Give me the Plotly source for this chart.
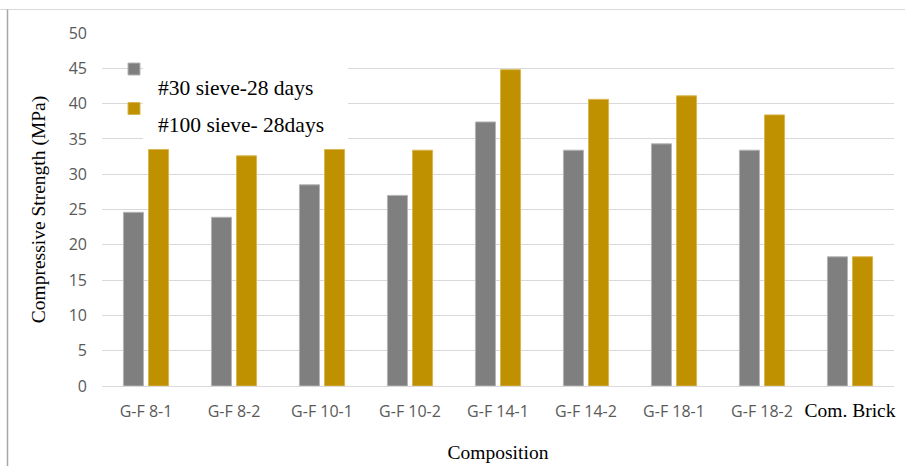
import plotly.graph_objects as go

# Compressive strength of geopolymer-fly ash brick compositions (MPa)
compositions = ["G-F 8-1", "G-F 8-2", "G-F 10-1", "G-F 10-2", "G-F 14-1",
                "G-F 14-2", "G-F 18-1", "G-F 18-2", "Com. Brick"]
sieve30_28d = [24.6, 23.9, 28.5, 27.0, 37.4, 33.4, 34.3, 33.4, 18.3]
sieve100_28d = [33.5, 32.6, 33.5, 33.4, 44.8, 40.6, 41.1, 38.4, 18.3]
series_names = ["#30 sieve-28 days", "#100 sieve- 28days"]
y_ticks = [0, 5, 10, 15, 20, 25, 30, 35, 40, 45, 50]

W, H = 905, 466
ML, MR, MT, MB = 102, 11, 33, 80
PW, PH = W - ML - MR, H - MT - MB


def px_x(px):
    return (px - ML) / PW


def px_y(py):
    return (H - MB - py) / PH


SERIF = "Liberation Serif, Times New Roman, serif"
SANS = "Open Sans, Calibri, sans-serif"

tick_text = [c if c != "Com. Brick" else
             '<span style="font-family:Liberation Serif;font-size:19.5px;color:#000000">%s</span>' % c
             for c in compositions]

fig = go.Figure()
fig.add_trace(go.Bar(
    x=compositions, y=sieve30_28d, name=series_names[0], legendgroup="a",
    marker=dict(color="#7F7F7F", line=dict(color="#B5B5B5", width=1)),
))
fig.add_trace(go.Bar(
    x=compositions, y=sieve100_28d, name=series_names[1], legendgroup="b",
    marker=dict(color="#BF9000", line=dict(color="#D9B650", width=1)),
))

fig.update_layout(
    width=W, height=H,
    margin=dict(l=ML, r=MR, t=MT, b=MB, pad=0, autoexpand=False),
    paper_bgcolor="white", plot_bgcolor="white",
    barmode="group", bargap=0.43, bargroupgap=0.2,
    hovermode=False,
    showlegend=True,
    legend=dict(
        x=px_x(114), y=px_y(49.5), xanchor="left", yanchor="top",
        bgcolor="rgba(0,0,0,0)", traceorder="grouped", tracegroupgap=10.5,
        font=dict(family=SANS, size=20, color="#595959"),
    ),
    xaxis=dict(
        tickmode="array", tickvals=compositions, ticktext=tick_text,
        showgrid=False, showline=True, linecolor="#D9D9D9", linewidth=1,
        ticks="", ticklabelstandoff=11, automargin=False,
        tickfont=dict(family=SANS, size=16, color="#595959"),
        title=dict(text="Composition", standoff=24,
                   font=dict(family=SERIF, size=19.5, color="#000000")),
    ),
    yaxis=dict(
        range=[0, 50], tickmode="array", tickvals=y_ticks,
        showgrid=True, gridcolor="#D9D9D9", gridwidth=1,
        zeroline=True, zerolinecolor="#D9D9D9", zerolinewidth=1,
        showline=False, ticks="", ticklabelstandoff=14, automargin=False,
        tickfont=dict(family=SANS, size=16, color="#595959"),
        title=dict(text="Compressive Strength (MPa)", standoff=17,
                   font=dict(family=SERIF, size=19.5, color="#000000")),
    ),
    shapes=[
        dict(type="line", xref="paper", yref="paper",
             x0=px_x(0), x1=px_x(W), y0=px_y(9.5), y1=px_y(9.5),
             line=dict(color="#D9D9D9", width=1)),
        dict(type="line", xref="paper", yref="paper",
             x0=px_x(7.5), x1=px_x(7.5), y0=px_y(9.5), y1=px_y(H),
             line=dict(color="#A6A6A6", width=1.5)),
    ],
    annotations=[
        # white panel laid over the legend labels
        dict(xref="paper", yref="paper", x=px_x(245.5), y=px_y(101.5),
             xanchor="center", yanchor="middle", text=" ", showarrow=False,
             width=205, height=81, bgcolor="white", borderpad=0, borderwidth=0),
        dict(xref="paper", yref="paper", x=px_x(156), y=px_y(88),
             xanchor="left", yanchor="middle", text=series_names[0], showarrow=False,
             font=dict(family=SERIF, size=21.5, color="#000000")),
        dict(xref="paper", yref="paper", x=px_x(156), y=px_y(125),
             xanchor="left", yanchor="middle", text=series_names[1], showarrow=False,
             font=dict(family=SERIF, size=21.5, color="#000000")),
    ],
)

fig.write_html("out.html", config={"displayModeBar": False})
